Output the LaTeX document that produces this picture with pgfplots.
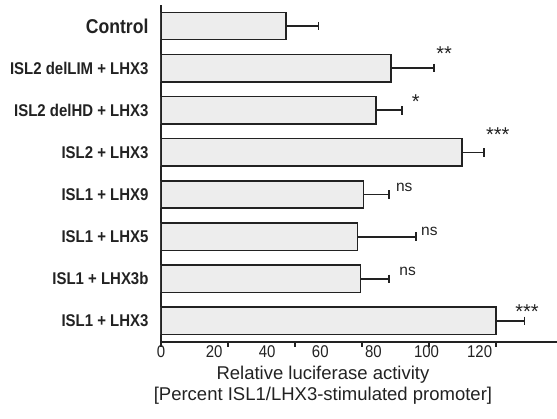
\documentclass[border=0pt]{standalone}
\usepackage{fontspec}
\setmainfont{Liberation Sans}
\newfontfamily\condfont{Liberation Sans}[FakeStretch=0.88]
\usepackage{pgfplots}
\usepackage{pgfplotstable}
\pgfplotsset{compat=1.18}
\definecolor{barfill}{HTML}{EDEDED}
\definecolor{ink}{HTML}{222222}
\pgfplotsset{every error bar/.append style={line width=1.8pt, draw=ink}}
\pgfplotstableread{
y x err
7 37.3 9.7
6 68.6 12.9
5 64.1 7.9
4 89.9 6.5
3 60.5 7.5
2 58.6 17.4
1 59.6 8.5
0 100.0 8.5
}\datatable
\begin{document}
\begin{tikzpicture}
\begin{axis}[
  scale only axis, width=396pt, height=337pt,
  xbar, bar width=0.65,
  xmin=0, xmax=118.2, ymin=-0.5, ymax=7.5,
  axis x line*=bottom, axis y line*=left,
  axis line style={line width=1.5pt, ink, -},
  every tick/.style={line width=1.5pt, ink},
  tick align=outside,
  /pgf/number format/assume math mode=true,
  xtick={0,20,40,60,80,100},
  xticklabels={},
  major tick length=5pt,
  extra x ticks={0,15.85,31.7,47.55,63.4,79.25,95.1},
  extra x tick labels={0,20,40,60,80,100,120},
  extra x tick style={major tick length=0pt, tick style={draw=none}},
  xticklabel style={font=\condfont\fontsize{17}{17}\selectfont, text=ink},
  ytick={0,1,2,3,4,5,6,7},
  yticklabels={ISL1 + LHX3, ISL1 + LHX3b, ISL1 + LHX5, ISL1 + LHX9, ISL2 + LHX3, ISL2 delHD + LHX3, ISL2 delLIM + LHX3, {\fontsize{20}{20}\selectfont Control}},
  y tick style={draw=none},
  extra y ticks={-0.5,0.5,1.5,2.5,3.5,4.5,5.5,6.5,7.5},
  extra y tick labels={},
  extra y tick style={major tick length=5pt, tick style={draw=ink, line width=1.5pt}},
  yticklabel style={font=\condfont\bfseries\fontsize{17}{17}\selectfont, text=ink, xshift=-4pt},
  xlabel={Relative luciferase activity\\{}[Percent ISL1/LHX3-stimulated promoter]},
  xlabel style={font=\fontsize{18.5}{21}\selectfont, text=ink, align=center, at={(rel axis cs:0.409,0)}, anchor=north, yshift=-21pt},
]
\addplot[fill=barfill, draw=ink, line width=1.5pt,
  error bars/.cd, x dir=plus, x explicit,
  error bar style={line width=1.8pt, draw=ink, solid},
  error mark options={line width=1.8pt, draw=ink, mark size=4.3pt, rotate=90}]
  table[x=x, y=y, x error=err] {\datatable};
\node[anchor=base west, inner sep=0pt, font=\fontsize{20}{20}\selectfont, text=ink] at (axis cs:82.1,6.18) {**};
\node[anchor=base west, inner sep=0pt, font=\fontsize{20}{20}\selectfont, text=ink] at (axis cs:74.8,5.04) {*};
\node[anchor=base west, inner sep=0pt, font=\fontsize{20}{20}\selectfont, text=ink] at (axis cs:97.0,4.26) {***};
\node[anchor=base west, inner sep=0pt, font=\fontsize{15.5}{15.5}\selectfont, text=ink] at (axis cs:70.1,3.07) {ns};
\node[anchor=base west, inner sep=0pt, font=\fontsize{15.5}{15.5}\selectfont, text=ink] at (axis cs:77.6,2.02) {ns};
\node[anchor=base west, inner sep=0pt, font=\fontsize{15.5}{15.5}\selectfont, text=ink] at (axis cs:71.1,1.07) {ns};
\node[anchor=base west, inner sep=0pt, font=\fontsize{20}{20}\selectfont, text=ink] at (axis cs:105.7,0.056) {***};
\end{axis}
\pgfresetboundingbox
\path[use as bounding box] (-161pt,-77pt) rectangle (396pt,342pt);
\end{tikzpicture}
\end{document}
